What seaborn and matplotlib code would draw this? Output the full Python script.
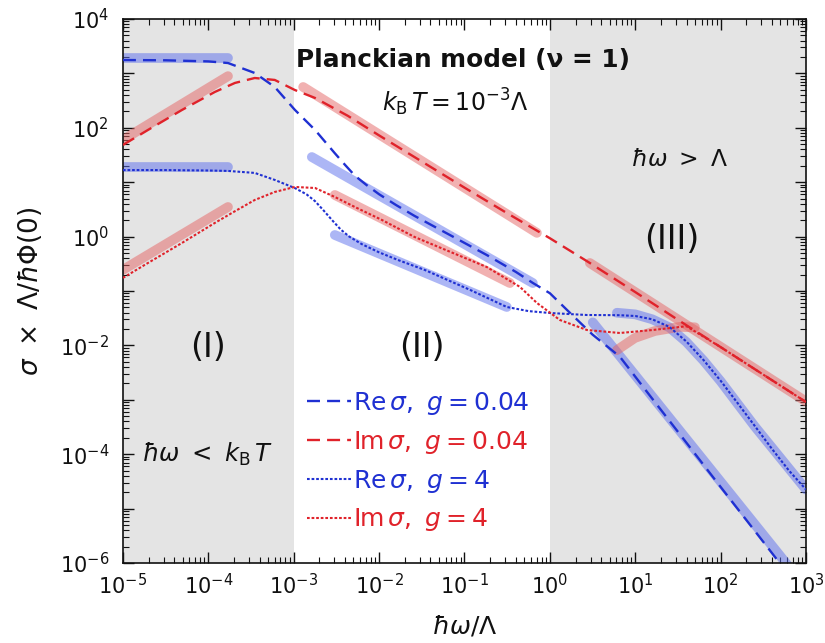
import numpy as np
import pandas as pd
import seaborn as sns
import matplotlib
matplotlib.use("Agg")
import matplotlib.pyplot as plt
from matplotlib.ticker import FixedLocator, FuncFormatter, LogLocator, NullFormatter

# ---------------- data: conductivity vs photon energy (log-log) ----------------
# Re sigma, g = 0.04
omega_re_g004 = [1e-5, 3.16e-5, 1e-4, 1.7e-4, 3.5e-4, 6.0e-4, 1.03e-3, 1.78e-3, 3.0e-3,
                 3.98e-3, 5.2e-3, 7.1e-3, 1e-2, 1.58e-2, 2.6e-2, 7.3e-2, 0.183, 0.40,
                 0.63, 1.0, 1.71, 3.16, 6.6, 15.8, 39.8, 100.0, 251.0, 562.0]
sigma_re_g004 = [1760, 1740, 1660, 1550, 1016, 562, 214, 91, 34.7, 20.9, 13.2, 8.9,
                 6.0, 3.8, 2.4, 1.0, 0.457, 0.224, 0.141, 0.091, 0.040, 0.0158, 0.0062,
                 1.05e-3, 1.62e-4, 2.5e-5, 3.9e-6, 7.6e-7]

# Im sigma, g = 0.04
omega_im_g004 = [1e-5, 1.96e-5, 4.9e-5, 1.19e-4, 2.05e-4, 3.5e-4, 6.0e-4, 1.03e-3,
                 1.78e-3, 4.3e-3, 1e-2, 3.16e-2, 0.1, 0.316, 1.0, 2.94, 10.0, 31.6,
                 100.0, 316.0, 1000.0]
sigma_im_g004 = [48.3, 91, 212, 455, 667, 822, 757, 495, 353, 166, 72.4, 24.0, 7.94,
                 2.69, 0.933, 0.327, 0.0955, 0.0295, 9.3e-3, 2.9e-3, 9.1e-4]

# Re sigma, g = 4
omega_re_g4 = [1e-5, 3.16e-5, 1e-4, 1.7e-4, 3.5e-4, 6.0e-4, 1.03e-3, 1.41e-3, 1.78e-3,
               2.24e-3, 2.82e-3, 3.55e-3, 4.47e-3, 6.3e-3, 1e-2, 1.66e-2, 3.44e-2, 0.116,
               0.313, 0.562, 1.0, 2.71, 6.6, 10.0, 15.8, 25.1, 39.8, 63.1, 100.0, 158.0,
               251.0, 398.0, 631.0, 1000.0]
sigma_re_g4 = [16.7, 16.7, 16.4, 16.1, 14.8, 11.0, 7.8, 6.0, 4.47, 3.02, 2.0, 1.35, 1.0,
               0.724, 0.513, 0.372, 0.243, 0.105, 0.0508, 0.0427, 0.0394, 0.0362, 0.0359,
               0.0347, 0.0302, 0.0219, 0.01175, 5.37e-3, 2.24e-3, 8.7e-4, 3.31e-4,
               1.26e-4, 5.0e-5, 2.24e-5]

# Im sigma, g = 4
omega_im_g4 = [1e-5, 1.96e-5, 4.9e-5, 1.19e-4, 1.89e-4, 3.5e-4, 6.0e-4, 1.03e-3,
               1.78e-3, 3.03e-3, 5.2e-3, 1.08e-2, 2.6e-2, 7.3e-2, 0.183, 0.446, 0.705,
               1.31, 2.71, 6.6, 16.1, 39.8, 100.0, 316.0, 1000.0]
sigma_im_g4 = [0.174, 0.327, 0.762, 1.78, 2.72, 4.71, 6.61, 8.17, 7.82, 5.35, 3.5,
               2.02, 0.984, 0.501, 0.275, 0.119, 0.0603, 0.0293, 0.0192, 0.0169,
               0.0192, 0.0225, 9.3e-3, 2.9e-3, 9.1e-4]

# limiting forms in regimes (I), (II) and (III)
asym_re_g004_I = ([1e-5, 1.7e-4], [1950, 1950])
asym_im_g004_I = ([1e-5, 1.7e-4], [60, 890])
asym_re_g4_I = ([1e-5, 1.7e-4], [19.0, 19.0])
asym_im_g4_I = ([1e-5, 1.7e-4], [0.245, 3.5])
asym_re_g004_II = ([1.63e-3, 0.632], [29.0, 0.14])
asym_im_g004_II = ([1.29e-3, 0.705], [562, 1.17])
asym_re_g4_II = ([3.03e-3, 0.313], [1.07, 0.0508])
asym_im_g4_II = ([3.03e-3, 0.34], [5.82, 0.14])
asym_re_g004_III = ([3.18, 631.0], [0.0265, 8.5e-7])
asym_im_g004_III = ([2.94, 1000.0], [0.327, 9.3e-4])
asym_re_g4_III = ([6.1, 10.0, 15.8, 25.1, 39.8, 63.1, 100.0, 251.0, 1000.0],
                  [0.0398, 0.0372, 0.0302, 0.0214, 0.0115, 5.25e-3, 2.19e-3, 3.24e-4,
                   2.24e-5])
asym_im_g4_III = ([6.1, 9.9, 17.0, 33.1, 50.0], [8.2e-3, 0.0137, 0.0184, 0.0219, 0.0215])

# shaded regimes
regime_I = (1e-5, 1e-3)
regime_III = (1.0, 1e3)

x_limits = (1e-5, 1e3)
y_limits = (1e-6, 1e4)

# ---------------- styling ----------------
sns.set_theme(style="ticks")
plt.rcParams["font.family"] = ["DejaVu Sans"]
plt.rcParams["mathtext.fontset"] = "dejavusans"
plt.rcParams["axes.linewidth"] = 1.2
plt.rcParams["text.color"] = "#111111"
plt.rcParams["axes.labelcolor"] = "#111111"
plt.rcParams["axes.edgecolor"] = "#111111"
plt.rcParams["xtick.color"] = "#111111"
plt.rcParams["ytick.color"] = "#111111"

BLUE = "#1f30d2"
RED = "#e0222a"
BAND_BLUE = (91 / 255, 110 / 255, 237 / 255)
BAND_RED = (228 / 255, 100 / 255, 100 / 255)
SHADE = "#e4e4e4"

DASH = (0, (5.5, 3.0))
DOT = (0, (1.3, 0.9))

fig = plt.figure(figsize=(8.25, 6.43), dpi=100)
ax = fig.add_axes([0.149, 0.1244, 0.828, 0.8461])
ax.set_xscale("log")
ax.set_yscale("log")

ax.axvspan(*regime_I, color=SHADE, zorder=0, lw=0)
ax.axvspan(*regime_III, color=SHADE, zorder=0, lw=0)

# thick translucent limiting forms
bands = [
    (asym_re_g004_I, BAND_BLUE), (asym_im_g004_I, BAND_RED),
    (asym_re_g4_I, BAND_BLUE), (asym_im_g4_I, BAND_RED),
    (asym_re_g004_II, BAND_BLUE), (asym_im_g004_II, BAND_RED),
    (asym_re_g4_II, BAND_BLUE), (asym_im_g4_II, BAND_RED),
    (asym_re_g004_III, BAND_BLUE), (asym_im_g004_III, BAND_RED),
    (asym_re_g4_III, BAND_BLUE), (asym_im_g4_III, BAND_RED),
]
for (bx, by), col in bands:
    sns.lineplot(x=bx, y=by, ax=ax, color=col, alpha=0.5, linewidth=7.0,
                 solid_capstyle="round", solid_joinstyle="round",
                 estimator=None, sort=False, zorder=2)

# full curves
curves = [
    (omega_re_g004, sigma_re_g004, BLUE, DASH, 1.7, r"$\mathrm{Re}\,\sigma,\ g = 0.04$"),
    (omega_im_g004, sigma_im_g004, RED, DASH, 1.7, r"$\mathrm{Im}\,\sigma,\ g = 0.04$"),
    (omega_re_g4, sigma_re_g4, BLUE, DOT, 1.5, r"$\mathrm{Re}\,\sigma,\ g = 4$"),
    (omega_im_g4, sigma_im_g4, RED, DOT, 1.5, r"$\mathrm{Im}\,\sigma,\ g = 4$"),
]
handles = []
for cx, cy, col, ls, lw, lab in curves:
    sns.lineplot(x=cx, y=cy, ax=ax, color=col, linestyle=ls, linewidth=lw,
                 estimator=None, sort=False, zorder=3)
    ln = ax.get_lines()[-1]
    ln.set_label(lab)
    handles.append(ln)

ax.set_xlim(*x_limits)
ax.set_ylim(*y_limits)

# ticks
x_decades = [10.0 ** k for k in range(-5, 4)]
y_decades = [10.0 ** k for k in range(-6, 5)]
ax.xaxis.set_major_locator(FixedLocator(x_decades))
ax.yaxis.set_major_locator(FixedLocator(y_decades))
ax.xaxis.set_major_formatter(FuncFormatter(lambda v, p: r"$10^{%d}$" % round(np.log10(v))))
ax.yaxis.set_major_formatter(FuncFormatter(
    lambda v, p: (r"$10^{%d}$" % round(np.log10(v))) if round(np.log10(v)) % 2 == 0 else ""))
ax.xaxis.set_minor_locator(LogLocator(base=10, subs=np.arange(2, 10), numticks=50))
ax.yaxis.set_minor_locator(LogLocator(base=10, subs=np.arange(2, 10), numticks=50))
ax.xaxis.set_minor_formatter(NullFormatter())
ax.yaxis.set_minor_formatter(NullFormatter())
ax.tick_params(which="both", direction="in", top=True, right=True)
ax.tick_params(which="major", length=8, width=1.0, labelsize=15)
ax.tick_params(axis="x", which="major", pad=7)
ax.tick_params(axis="y", which="major", pad=10)
ax.tick_params(which="minor", length=4, width=0.8)

ax.set_xlabel(r"$\hbar\omega/\Lambda$", fontsize=18, labelpad=11)
ax.set_ylabel(r"$\sigma\ \times\ \Lambda/\hbar\Phi(0)$", fontsize=19, labelpad=11)

# annotations
ax.text(0.498, 0.925, "Planckian model (ν = 1)", transform=ax.transAxes,
        ha="center", va="center", fontsize=17.8, fontweight="bold")
ax.text(0.486, 0.846, r"$k_\mathrm{B}\,T = 10^{-3}\Lambda$", transform=ax.transAxes,
        ha="center", va="center", fontsize=17)
ax.text(0.8155, 0.741, r"$\hbar\omega\ >\ \Lambda$", transform=ax.transAxes,
        ha="center", va="center", fontsize=16.8)
ax.text(0.124, 0.199, r"$\hbar\omega\ <\ k_\mathrm{B}\,T$", transform=ax.transAxes,
        ha="center", va="center", fontsize=17.5)
for tx, ty, s in [(0.124, 0.397, "(I)"), (0.438, 0.397, "(II)"), (0.804, 0.594, "(III)")]:
    ax.text(tx, ty, s, transform=ax.transAxes, ha="center", va="center", fontsize=24)

leg = ax.legend(handles=handles, loc="upper left", bbox_to_anchor=(0.255, 0.336),
                frameon=False, fontsize=18, handlelength=1.75, handletextpad=0.1,
                labelspacing=0.47, borderaxespad=0.0)
for txt, ln in zip(leg.get_texts(), handles):
    txt.set_color(ln.get_color())

fig.savefig("out.png", dpi=100)
